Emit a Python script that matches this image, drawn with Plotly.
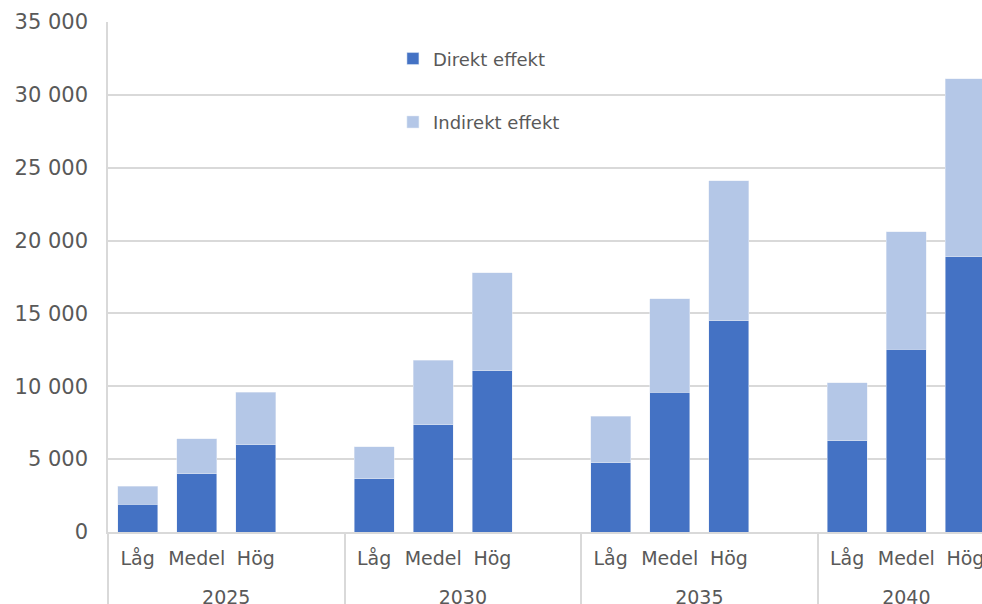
import plotly.graph_objects as go

years = ["2025", "2030", "2035", "2040"]
scenarios = ["Låg", "Medel", "Hög"]
direkt = [1900, 4000, 6000, 3650, 7350, 11050, 4750, 9600, 14500, 6250, 12550, 18900]
indirekt = [1250, 2400, 3600, 2200, 4450, 6750, 3200, 6400, 9600, 4000, 8050, 12200]

# spacer category label (invisible, taller glyph box pushes the year row down)
spacer = "<span style='font-size:39px;color:white'>.</span>"

# build multicategory x with a blank spacer slot after each group except the last
x_year, x_scen, y_dir, y_ind = [], [], [], []
k = 0
for gi, yr in enumerate(years):
    for s in scenarios:
        x_year.append(yr); x_scen.append(s)
        y_dir.append(direkt[k]); y_ind.append(indirekt[k]); k += 1
    if gi < len(years) - 1:
        x_year.append(yr); x_scen.append(spacer)
        y_dir.append(None); y_ind.append(None)

grid = "#D9D9D9"
txt = "#595959"
font = "DejaVu Sans"

fig = go.Figure()
fig.add_trace(go.Bar(x=[x_year, x_scen], y=y_dir, name="Direkt effekt",
                     marker_color="#4472C4", legendgroup="a"))
fig.add_trace(go.Bar(x=[x_year, x_scen], y=y_ind, name="Indirekt effekt",
                     marker_color="#B4C7E7", legendgroup="b"))

fig.update_layout(
    barmode="stack", bargap=0.324,
    width=982, height=604,
    margin=dict(l=108, r=0, t=22, b=72),
    plot_bgcolor="white", paper_bgcolor="white",
    separators=", ",
    font=dict(family=font, size=18, color=txt),
    showlegend=True,
    legend=dict(x=0.326, y=0.964, xanchor="left", yanchor="top",
                traceorder="grouped", tracegroupgap=37,
                font=dict(size=18, color=txt), bgcolor="rgba(0,0,0,0)",
                itemwidth=30),
)
fig.update_xaxes(
    type="multicategory",
    range=[-0.5, 14.28],
    showline=True, linecolor=grid, linewidth=1.5,
    showdividers=True, dividercolor=grid, dividerwidth=1.5,
    tickfont=dict(family=font, size=19, color=txt),
    tickangle=0, ticks="", ticklabelstandoff=8,
    showgrid=False, automargin=False,
)
fig.update_yaxes(
    range=[0, 35000], dtick=5000, tickformat=",d",
    showgrid=True, gridcolor=grid, gridwidth=1.5,
    showline=True, linecolor=grid, linewidth=1.5,
    zeroline=False,
    tickfont=dict(family=font, size=21, color=txt),
    ticks="", ticklabelstandoff=14, automargin=False,
)
fig.write_html("out.html", config={"displayModeBar": False},
               post_script="document.body.style.margin='0';")
